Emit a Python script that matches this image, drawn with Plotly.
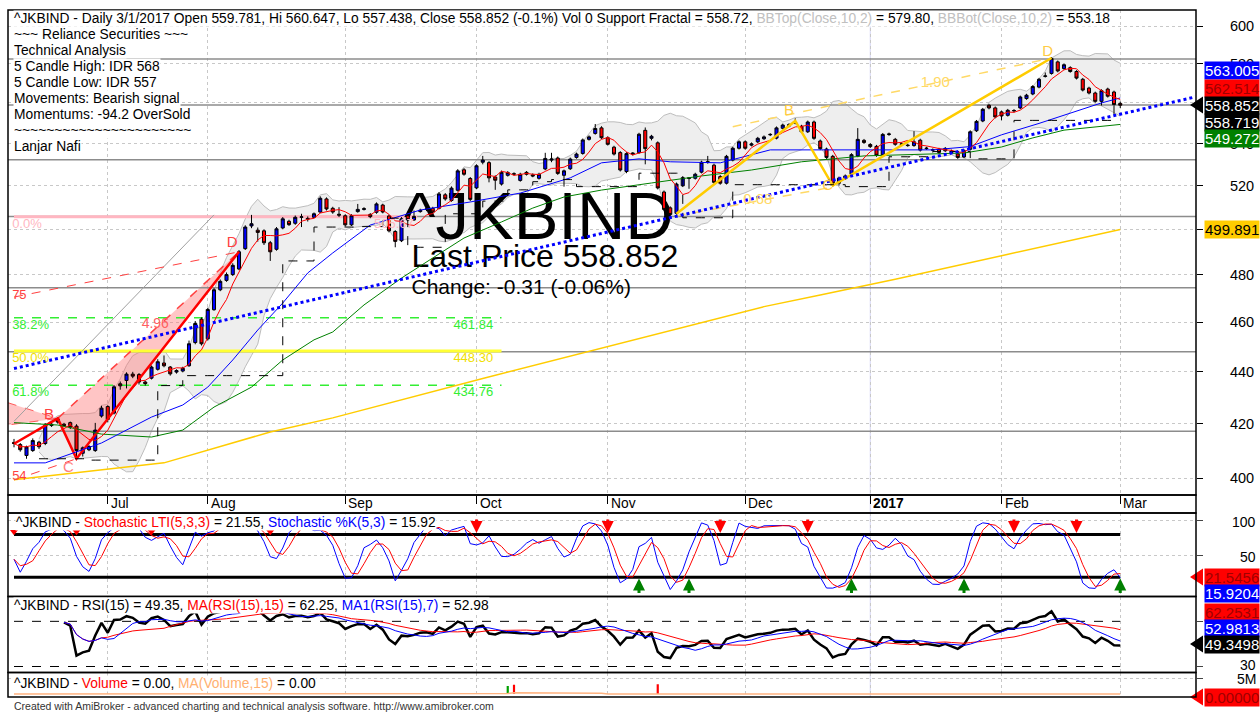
import numpy as np
import pandas as pd
import plotly.graph_objects as go

W, H = 1260, 713
FONT = "Liberation Sans, Arial, sans-serif"

# ^JKBIND daily bars, index 0 = mid June 2016 ... 177 = 1 Mar 2017
opens = [413.0, 412.2, 408.2, 410.0, 413.1, 412.6, 419.3, 421.8, 419.8, 420.4,
         419.1, 409.0, 410.3, 410.0, 422.9, 426.5, 424.0, 435.3, 436.6, 439.1,
         438.9, 436.0, 437.5, 441.0, 443.5, 441.9, 439.9, 440.3, 442.4, 451.7,
         461.3, 453.2, 465.2, 473.6, 477.6, 480.1, 482.5, 491.4, 501.5, 499.6,
         499.3, 494.0, 491.1, 500.6, 503.6, 502.7, 505.4, 504.9, 505.4, 507.8,
         513.8, 509.5, 506.8, 506.1, 502.0, 508.0, 509.0, 506.7, 507.7, 511.0,
         506.0, 499.0, 494.9, 506.1, 504.2, 508.0, 509.0, 509.5, 509.5, 515.7,
         513.1, 517.8, 527.4, 523.3, 518.9, 531.0, 530.8, 524.0, 520.7, 524.8,
         525.5, 522.4, 526.2, 525.0, 523.4, 527.8, 532.0, 533.0, 524.8, 527.9,
         533.3, 535.2, 542.0, 544.9, 547.6, 542.8, 538.2, 535.6, 526.6, 534.9,
         535.6, 546.4, 542.5, 540.3, 517.0, 509.7, 507.2, 519.9, 523.6, 523.4,
         526.3, 531.0, 529.6, 524.2, 521.1, 532.0, 537.7, 540.8, 539.2, 540.8,
         542.3, 544.2, 542.6, 547.4, 548.5, 550.0, 548.4, 545.7, 550.5, 541.2,
         537.3, 533.8, 521.1, 523.2, 525.4, 534.0, 541.5, 539.5, 538.6, 534.5,
         544.4, 542.0, 539.6, 539.2, 539.0, 541.6, 537.5, 537.0, 537.2, 536.5,
         536.3, 535.0, 533.5, 537.2, 546.2, 551.0, 558.8, 557.5, 555.5, 553.8,
         556.0, 557.5, 562.2, 564.5, 568.0, 573.5, 575.0, 581.0, 577.5, 578.0,
         576.0, 572.0, 567.5, 565.0, 560.8, 567.0, 565.5, 559.781]
highs = [414.3, 412.8, 411.8, 414.5, 413.6, 420.2, 420.3, 422.5, 420.3, 420.8,
         419.8, 411.5, 412.0, 420.3, 426.8, 427.0, 434.8, 436.2, 439.8, 440.0,
         439.5, 436.5, 442.5, 445.0, 446.5, 442.3, 441.0, 442.0, 452.5, 460.5,
         462.0, 466.0, 474.3, 478.0, 481.0, 485.0, 490.8, 501.8, 506.5, 500.8,
         500.0, 494.8, 501.0, 505.5, 504.3, 506.2, 507.0, 505.8, 507.6, 515.0,
         514.5, 510.2, 510.0, 506.8, 506.8, 511.5, 510.0, 507.3, 512.2, 511.6,
         506.6, 499.6, 505.5, 508.0, 508.5, 509.3, 510.0, 510.2, 517.0, 516.5,
         519.6, 527.7, 528.2, 524.0, 530.0, 534.0, 531.5, 524.8, 527.0, 526.8,
         526.2, 526.0, 526.8, 525.7, 526.0, 535.5, 535.5, 533.7, 527.5, 533.2,
         535.6, 542.4, 543.9, 549.5, 548.4, 543.5, 538.9, 536.3, 535.8, 535.8,
         545.2, 547.8, 544.2, 541.0, 517.7, 510.4, 521.4, 524.4, 524.0, 526.0,
         531.7, 534.0, 530.3, 524.9, 534.5, 538.4, 541.5, 541.5, 540.5, 543.2,
         543.9, 545.0, 548.3, 549.7, 549.9, 552.3, 549.1, 551.2, 551.2, 541.9,
         538.0, 534.5, 524.2, 525.2, 535.3, 547.5, 542.2, 540.2, 539.3, 545.1,
         545.3, 542.7, 540.5, 539.9, 546.0, 542.3, 538.4, 537.6, 537.9, 538.3,
         537.0, 535.7, 537.2, 546.4, 551.5, 557.5, 559.5, 558.2, 556.2, 557.0,
         556.9, 563.7, 564.6, 569.0, 572.7, 575.5, 583.5, 581.7, 580.2, 578.7,
         576.7, 572.7, 568.2, 565.7, 566.9, 567.7, 566.2, 560.647]
lows = [411.2, 409.6, 407.0, 409.5, 410.6, 412.0, 418.8, 420.0, 418.9, 418.0,
        406.5, 407.8, 409.8, 409.5, 422.3, 420.5, 423.5, 433.0, 433.5, 437.5,
        435.0, 434.6, 437.0, 440.5, 441.8, 438.5, 439.3, 439.8, 442.0, 451.0,
        450.5, 452.5, 464.8, 473.0, 477.0, 479.5, 482.0, 490.8, 500.5, 494.5,
        493.0, 486.0, 490.5, 500.0, 501.5, 502.0, 501.0, 503.5, 505.0, 507.3,
        508.5, 507.0, 505.5, 501.2, 501.5, 507.5, 508.5, 505.0, 507.0, 507.2,
        498.6, 492.0, 494.3, 503.6, 503.8, 507.5, 508.2, 507.0, 509.0, 513.0,
        512.5, 517.2, 524.6, 512.8, 518.3, 530.0, 521.5, 518.0, 520.0, 524.2,
        524.7, 521.8, 524.7, 523.9, 522.8, 527.2, 531.0, 525.0, 519.5, 527.3,
        532.7, 534.6, 541.4, 544.3, 542.2, 539.0, 534.2, 526.6, 525.8, 534.2,
        535.0, 530.0, 541.5, 518.2, 508.3, 505.2, 506.6, 519.3, 518.5, 522.8,
        525.7, 530.3, 520.8, 520.4, 520.5, 531.4, 537.1, 537.0, 538.6, 540.2,
        541.7, 543.6, 542.0, 546.8, 547.9, 549.4, 545.0, 545.1, 541.8, 536.8,
        532.6, 519.5, 520.0, 522.6, 524.8, 533.4, 539.8, 537.8, 533.6, 533.9,
        543.7, 538.9, 539.0, 538.4, 538.4, 536.1, 536.9, 536.2, 535.0, 535.9,
        535.0, 532.6, 532.9, 536.6, 545.6, 550.4, 556.8, 552.3, 551.3, 553.2,
        555.3, 556.9, 561.6, 563.9, 567.4, 572.9, 574.4, 575.6, 576.9, 575.4,
        571.9, 565.8, 564.3, 560.1, 558.72, 562.7, 558.9, 557.438]
closes = [412.6, 410.3, 411.3, 413.7, 411.4, 419.5, 419.8, 420.6, 419.3, 418.7,
          410.0, 411.0, 411.5, 417.6, 425.9, 421.6, 434.1, 434.5, 439.1, 438.3,
          436.0, 435.4, 441.9, 444.0, 442.4, 439.2, 440.5, 441.4, 451.2, 459.5,
          451.2, 465.3, 473.6, 477.2, 480.1, 484.1, 490.0, 501.0, 502.5, 498.6,
          494.0, 490.0, 500.2, 504.7, 502.1, 505.4, 505.6, 504.6, 507.0, 514.1,
          509.2, 507.8, 506.4, 502.0, 506.1, 509.0, 509.3, 505.7, 511.5, 507.8,
          499.3, 494.6, 504.7, 504.2, 505.8, 508.6, 509.2, 507.8, 516.1, 513.8,
          518.8, 526.9, 525.3, 513.6, 529.3, 532.0, 523.6, 522.5, 526.2, 526.1,
          525.4, 525.3, 525.3, 524.5, 525.3, 532.8, 532.5, 525.7, 526.9, 532.5,
          534.9, 541.7, 543.2, 547.3, 542.8, 539.6, 534.9, 527.3, 535.1, 535.3,
          544.5, 537.5, 543.5, 518.9, 509.0, 506.7, 520.7, 523.7, 523.4, 525.3,
          531.0, 531.2, 521.5, 521.1, 533.8, 537.7, 540.8, 537.7, 539.8, 542.5,
          543.2, 544.4, 547.6, 549.0, 549.2, 550.2, 545.7, 550.5, 542.5, 537.5,
          533.3, 521.1, 523.5, 524.5, 534.6, 542.0, 540.5, 538.5, 534.3, 544.4,
          544.6, 539.6, 539.8, 539.0, 540.8, 536.8, 537.7, 536.8, 535.7, 537.6,
          535.7, 533.3, 536.5, 545.7, 550.8, 556.8, 557.5, 553.0, 553.5, 556.3,
          556.2, 563.0, 563.9, 568.3, 572.0, 573.7, 582.8, 576.3, 579.5, 576.0,
          572.6, 566.5, 565.0, 560.8, 566.2, 563.4, 559.16, 558.852]

month_bars = [15, 31, 53, 74, 95, 117, 137, 158, 177]
month_labels = ["Jul", "Aug", "Sep", "Oct", "Nov", "Dec", "<b>2017</b>", "Feb", "Mar"]

# long moving averages (bar, value)
blue_ma_bars = [0, 5, 14, 22, 27, 31, 35, 39, 43, 47, 51, 57, 65, 73, 81, 89, 94,
                100, 105, 113, 121, 137, 147, 153, 158, 164, 168, 174, 177]
blue_ma_vals = [405.5, 405.5, 412.8, 422.5, 427.1, 434.0, 444.7, 456.8, 468.0, 480.8,
                489.5, 501.9, 508.7, 512.4, 516.5, 523.6, 530.7, 532.6, 531.2, 530.7,
                536.9, 536.9, 536.9, 538.5, 544.2, 549.8, 554.0, 560.0, 562.5]
green_ma_bars = [0, 7, 14, 22, 27, 32, 38, 43, 48, 51, 56, 62, 67, 72, 78, 83, 88,
                 94, 102, 110, 118, 126, 136, 152, 158, 163, 168, 177]
green_ma_vals = [420.4, 419.5, 416.1, 415.0, 417.6, 426.3, 434.0, 444.7, 452.8, 456.0,
                 467.2, 478.6, 487.3, 496.1, 503.3, 509.6, 514.7, 517.9, 521.2, 524.5,
                 527.3, 531.2, 534.0, 535.4, 538.3, 542.7, 546.5, 549.3]
yellow_ma_bars = [0, 24, 41, 51, 75, 100, 120, 129, 141, 177]
yellow_ma_vals = [399.4, 405.5, 416.9, 422.2, 437.4, 453.3, 466.5, 471.4, 478.1, 499.9]

# drawn objects
trend_bars = [0, 189]
trend_vals = [441.3, 563.0]
channel_bars = [0, 32]
channel_vals = [420.9, 506.5]
level_vals = [582.5, 558.9, 532.2, 505.8, 474.5, 448.0, 417.2]
fib_vals = [505.67, 461.84, 448.30, 434.76]
fib_names = ["0.0%", "38.2%", "50.0%", "61.8%"]
fib_colors = ["#FFB6C1", "#33EE33", "#F0E000", "#33EE33"]

red_pat_bars = [0, 7, 10, 36]
red_pat_vals = [412.5, 422.0, 407.0, 490.0]
yel_pat_bars = [106, 125, 131, 166]
yel_pat_vals = [507.0, 551.0, 520.0, 583.0]

sell_bars = [74, 95, 113, 127, 160, 170]
buy_bars = [100, 108, 134, 152, 177]
small_sell_bars = [0, 10, 22, 41]

vol_bars = [79, 80, 103]
vol_vals = [2.6e6, 3.0e6, 3.2e6]

right_boxes = [  # text, centre y px, background, text colour, pointer
    ("563.005", 71, "#0000FF", "white", False),
    ("562.514", 88, "#FF0000", "#A00000", False),
    ("558.852", 105, "#000000", "white", True),
    ("558.719", 122, "#000000", "white", False),
    ("549.272", 139, "#008000", "white", False),
    ("499.891", 229, "#FFCC00", "black", False),
    ("21.5456", 577, "#FF0000", "#A00000", True),
    ("15.9204", 593, "#0000FF", "white", False),
    ("62.2531", 612, "#FF0000", "#A00000", False),
    ("52.9813", 628, "#0000FF", "white", False),
    ("49.3498", 644, "#000000", "white", True),
    ("0.00000", 697, "#FF0000", "#A00000", True),
]

info_lines = ["~~~ Reliance Securities ~~~", "Technical Analysis", "5 Candle High: IDR 568",
              "5 Candle Low: IDR 557", "Movements: Bearish signal", "Momentums: -94.2 OverSold",
              "~~~~~~~~~~~~~~~~~~~~~~", "Lanjar Nafi"]


def px(x):
    return x / W


def py(y):
    return 1 - y / H


n = len(closes)
bars = np.arange(n)
X0, X1 = -0.96, 189.12
YR = [np.log10(393.98), np.log10(608.67)]

c = pd.Series(closes)
hi = pd.Series(highs)
lo = pd.Series(lows)

ma5 = c.rolling(5, min_periods=1).mean()
mid = c.rolling(10, min_periods=5).mean()
sd = c.rolling(10, min_periods=5).std(ddof=0)
bb_top = mid + 2 * sd
bb_bot = mid - 2 * sd

llv = lo.rolling(5, min_periods=1).min()
hhv = hi.rolling(5, min_periods=1).max()
stoch_k = 100 * (c - llv).rolling(3, min_periods=1).sum() / (hhv - llv).rolling(3, min_periods=1).sum()
stoch_d = stoch_k.rolling(3, min_periods=1).mean()

diff = c.diff()
gain = diff.clip(lower=0).ewm(alpha=1 / 15, adjust=True, min_periods=8).mean()
loss = (-diff.clip(upper=0)).ewm(alpha=1 / 15, adjust=True, min_periods=8).mean()
rsi = 100 - 100 / (1 + gain / loss)
rsi_ma15 = rsi.rolling(15, min_periods=1).mean()
rsi_ma7 = rsi.rolling(7, min_periods=1).mean()

vol = np.zeros(n)
vol[vol_bars] = vol_vals
vol_ma = pd.Series(vol).rolling(15, min_periods=1).mean()
vol_colors = ["#00A000" if closes[b] > opens[b] else "#FF0000" for b in vol_bars]

# support fractal (confirmed two bars after the low)
frac = np.full(n, np.nan)
cur = np.nan
for t in range(n):
    j = t - 2
    if j >= 2 and lows[j] < min(lows[j - 2], lows[j - 1], lows[j + 1], lows[j + 2]):
        cur = lows[j]
    frac[t] = cur

fig = go.Figure()


def line(x, y, color, width=1, dash="solid", yaxis="y5", shape="linear"):
    fig.add_trace(go.Scatter(x=x, y=y, mode="lines", yaxis=yaxis,
                             line=dict(color=color, width=width, dash=dash, shape=shape)))


def label(x, y, text, color, size=13, pos="middle right", yaxis="y5"):
    fig.add_trace(go.Scatter(x=[x], y=[y], mode="text", text=[text], textposition=pos, yaxis=yaxis,
                             textfont=dict(family=FONT, size=size, color=color)))


# ---- background layer (main subplot, under the candles) ----
fig.add_trace(go.Scatter(x=bars, y=bb_bot, mode="lines", line=dict(color="#BDBDBD", width=1)))
fig.add_trace(go.Scatter(x=bars, y=bb_top, mode="lines", fill="tonexty",
                         fillcolor="#EEEEEE", line=dict(color="#BDBDBD", width=1)))
fig.add_trace(go.Scatter(x=[-1, red_pat_bars[1], -1], y=[428.0, red_pat_vals[1], 419.5],
                         fill="toself", fillcolor="rgba(255,110,110,0.40)", mode="lines",
                         line=dict(color="rgba(255,0,0,0.6)", width=1, dash="dash")))
fig.add_trace(go.Scatter(x=red_pat_bars[1:] + [red_pat_bars[1]], y=red_pat_vals[1:] + [red_pat_vals[1]],
                         fill="toself", fillcolor="rgba(255,110,110,0.40)", mode="lines",
                         line=dict(color="rgba(255,0,0,0)", width=0)))
for v in level_vals:
    line([X0, X1], [v, v], "#8C8C8C", 1.5, yaxis="y")
line([0, 64.5], [fib_vals[0]] * 2, fib_colors[0], 3, yaxis="y")
line([0, 78], [fib_vals[1]] * 2, fib_colors[1], 1.5, "dash", yaxis="y")
line([0, 78], [fib_vals[2]] * 2, "#FFFF33", 3, yaxis="y")
line([0, 78], [fib_vals[3]] * 2, fib_colors[3], 1.5, "dash", yaxis="y")
line(channel_bars, channel_vals, "#A0A0A0", 1, yaxis="y")
label(62.4, 503.0, "^JKBIND", "black", 67, yaxis="y")
label(63.6, 486.9, "Last Price 558.852", "black", 32, yaxis="y")
label(63.6, 474.0, "Change: -0.31 (-0.06%)", "black", 21, yaxis="y")

# ---- price layer (overlay subplot) ----
fig.add_trace(go.Candlestick(
    x=bars, open=opens, high=highs, low=lows, close=closes, yaxis="y5",
    increasing=dict(line=dict(color="black", width=1), fillcolor="#0000FF"),
    decreasing=dict(line=dict(color="black", width=1), fillcolor="#FF0000"),
    whiskerwidth=0))

line([red_pat_bars[1], red_pat_bars[3]], [red_pat_vals[1], red_pat_vals[3]], "#FF4040", 1.5, "dash")
line([0, red_pat_bars[3]], [470.5, red_pat_vals[3]], "#FF4040", 1, "dash")
line([0, red_pat_bars[2]], [399.3, red_pat_vals[2]], "#FF4040", 1, "dash")
line(red_pat_bars, red_pat_vals, "#FF0000", 2.5)

line(yellow_ma_bars, yellow_ma_vals, "#FFCC00", 1.5)
line(green_ma_bars, green_ma_vals, "#008000", 1)
line(blue_ma_bars, blue_ma_vals, "#0000FF", 1)
line(bars, ma5, "#FF0000", 1)

line([115, yel_pat_bars[3]], [548.2, yel_pat_vals[3]], "#FFD966", 1.5, "dash")
line([yel_pat_bars[0], yel_pat_bars[2]], [506.0, 519.3], "#FFD966", 1.5, "dash")
line(yel_pat_bars, yel_pat_vals, "#FFCC00", 2.5)

line(bars, frac, "black", 1, "dash", shape="hv")
line(trend_bars, trend_vals, "#0000FF", 3, "dot")

for name, v, col in zip(fib_names, fib_vals, fib_colors):
    label(-0.3, v * 0.99285, name, col, 13)
for v, col in zip(fib_vals[1:], fib_colors[1:]):
    label(70.3, v * 0.99285, f"{v:.2f}", col, 13)
label(57.6, fib_vals[0] * 0.9925, f"{fib_vals[0]:.2f}", "#FFB6C1", 13)
label(-0.3, 471.2, "75", "#FF4040", 13)
label(-0.3, 400.5, "54", "#FF4040", 13)
label(22.6, 458.9, "4.96", "#FF6060", 14, "middle center")
label(5.6, 423.3, "B", "#FF4040", 15, "middle center")
label(8.7, 403.7, "C", "#FF8080", 15, "middle center")
label(34.9, 493.9, "D", "#FF4040", 15, "middle center")
label(124.0, 555.6, "B", "#FFCC44", 15, "middle center")
label(130.2, 519.5, "C", "#FFCC44", 15, "middle center")
label(165.4, 586.3, "D", "#FFCC44", 15, "middle center")
label(147.4, 570.1, "1.90", "#FFD966", 15, "middle center")
label(119.0, 513.3, "0.68", "#FFD966", 15, "middle center")

# ---- stochastic panel ----
line([0, n - 1], [80, 80], "black", 3, yaxis="y2")
line([0, n - 1], [20, 20], "black", 3, yaxis="y2")
line(bars, stoch_k, "#0000FF", 1, yaxis="y2")
line(bars, stoch_d, "#FF0000", 1, yaxis="y2")
fig.add_trace(go.Scatter(x=small_sell_bars, y=[84] * len(small_sell_bars), yaxis="y2", mode="markers",
                         marker=dict(symbol="triangle-down", size=7, color="#FF0000")))

# ---- RSI panel ----
line([0, n - 1], [70, 70], "black", 1, "dash", yaxis="y3")
line([0, n - 1], [30, 30], "black", 1, "dash", yaxis="y3")
line(bars, rsi, "black", 2.5, yaxis="y3")
line(bars, rsi_ma15, "#FF0000", 1, yaxis="y3")
line(bars, rsi_ma7, "#0000FF", 1, yaxis="y3")

# ---- volume panel ----
fig.add_trace(go.Bar(x=vol_bars, y=vol_vals, yaxis="y4", width=0.35,
                     marker=dict(color=vol_colors, line=dict(width=0))))
line(bars, vol_ma, "#FFB380", 1.5, yaxis="y4")

ann = []
shapes = []


def text(x, y, t, size=13.8, color="black", xanchor="left", bg="white"):
    ann.append(dict(x=px(x), y=py(y), xref="paper", yref="paper", text=t, showarrow=False,
                    xanchor=xanchor, yanchor="middle", bgcolor=bg, borderpad=0,
                    font=dict(family=FONT, size=size, color=color)))


gray = '<span style="color:#C0C0C0">'
text(13, 18, "^JKBIND - Daily 3/1/2017 Open 559.781, Hi 560.647, Lo 557.438, Close 558.852 (-0.1%) "
             "Vol 0 Support Fractal = 558.72, " + gray + "BBTop(Close,10,2)</span> = 579.80, "
             + gray + "BBBot(Close,10,2)</span> = 553.18")
for k, t in enumerate(info_lines):
    text(13, 34 + 16 * k, t)
text(15, 522, '^JKBIND - <span style="color:#FF0000">Stochastic LTI(5,3,3)</span> = 21.55, '
              '<span style="color:#0000FF">Stochastic %K(5,3)</span> = 15.92')
text(13, 605, '^JKBIND - RSI(15) = 49.35, <span style="color:#FF0000">MA(RSI(15),15)</span> = 62.25, '
              '<span style="color:#0000FF">MA1(RSI(15),7)</span> = 52.98')
text(13, 683, '^JKBIND - <span style="color:#FF0000">Volume</span> = 0.00, '
              '<span style="color:#FFB070">MA(Volume,15)</span> = 0.00')
text(13, 706, "Created with AmiBroker - advanced charting and technical analysis software. http://www.amibroker.com",
     size=10.5, color="#333333", bg="rgba(0,0,0,0)")

for t, y in [("100", 521.5), ("50", 556.5), ("30", 665), ("5M", 679)]:
    text(1257, y, t, size=14, xanchor="right", bg="rgba(0,0,0,0)")

for b, t in zip(month_bars, month_labels):
    ann.append(dict(x=b, y=py(503.5), xref="x", yref="paper", text=t, showarrow=False,
                    xanchor="left", yanchor="middle", xshift=1,
                    font=dict(family=FONT, size=13.8, color="black")))

for b in sell_bars:
    ann.append(dict(x=b, y=82, xref="x", yref="y2", ax=0, ay=-15, text="", showarrow=True,
                    arrowhead=2, arrowsize=0.8, arrowwidth=3, arrowcolor="#FF0000"))
for b in buy_bars:
    ann.append(dict(x=b, y=18, xref="x", yref="y2", ax=0, ay=16, text="", showarrow=True,
                    arrowhead=2, arrowsize=0.8, arrowwidth=3, arrowcolor="#008000"))

for t, yc, bg, fc, pointer in right_boxes:
    ann.append(dict(x=1.0, y=py(yc), xref="paper", yref="paper", text=t, showarrow=False,
                    xanchor="right", yanchor="middle", bgcolor=bg, borderpad=0,
                    font=dict(family=FONT, size=15, color=fc)))
    if pointer:
        shapes.append(dict(type="path", xref="paper", yref="paper", fillcolor=bg, line=dict(width=0),
                           path=f"M {px(1203)},{py(yc - 8.5)} L {px(1190)},{py(yc)} L {px(1203)},{py(yc + 8.5)} Z"))

for top, bot in [(10, 495), (495, 513), (513, 596.5), (596.5, 672.5), (672.5, 697)]:
    shapes.append(dict(type="rect", xref="paper", yref="paper", x0=px(8), x1=px(1196),
                       y0=py(bot), y1=py(top), line=dict(color="black", width=1.5)))
shapes.append(dict(type="line", xref="x", yref="paper", x0=month_bars[6], x1=month_bars[6],
                   y0=py(697), y1=py(10), line=dict(color="#D4D4F4", width=1), layer="below"))

xd = [px(8), px(1196)]
grid = dict(showgrid=True, gridcolor="#C8C8C8", griddash="dot", gridwidth=1)
fig.update_layout(
    width=W, height=H, margin=dict(l=0, r=0, t=0, b=0),
    paper_bgcolor="white", plot_bgcolor="white",
    showlegend=False, hovermode=False,
    font=dict(family=FONT, size=13, color="black"),
    annotations=ann, shapes=shapes,
    xaxis=dict(domain=xd, range=[X0, X1], anchor="y", tickvals=month_bars, showticklabels=False,
               ticks="outside", ticklen=8, tickcolor="black", zeroline=False,
               rangeslider=dict(visible=False), **grid),
    yaxis=dict(domain=[py(495), py(10)], type="log", range=YR,
               side="right", anchor="x", tickvals=list(range(400, 601, 20)),
               ticks="outside", ticklen=6, tickcolor="black", ticklabelstandoff=24,
               tickfont=dict(size=14.5), zeroline=False, **grid),
    yaxis5=dict(type="log", range=YR, overlaying="y", side="right", anchor="x", visible=False),
    yaxis2=dict(domain=[py(596.5), py(513)], range=[-7.2, 110.2], side="right", anchor="x",
                tickvals=[50, 100], ticks="outside", ticklen=6, showticklabels=False,
                zeroline=False, **grid),
    yaxis3=dict(domain=[py(672.5), py(596.5)], range=[24.7, 92], side="right", anchor="x",
                tickvals=[30, 70], ticks="outside", ticklen=6, showticklabels=False,
                showgrid=False, zeroline=False),
    yaxis4=dict(domain=[py(697), py(672.5)], range=[-1e6, 7e6], side="right", anchor="x",
                tickvals=[5e6], ticks="outside", ticklen=6, showticklabels=False,
                zeroline=False, **grid),
)

fig.write_html("out.html", config={"displayModeBar": False},
               post_script="document.body.style.margin='0';document.body.style.overflow='hidden';")
